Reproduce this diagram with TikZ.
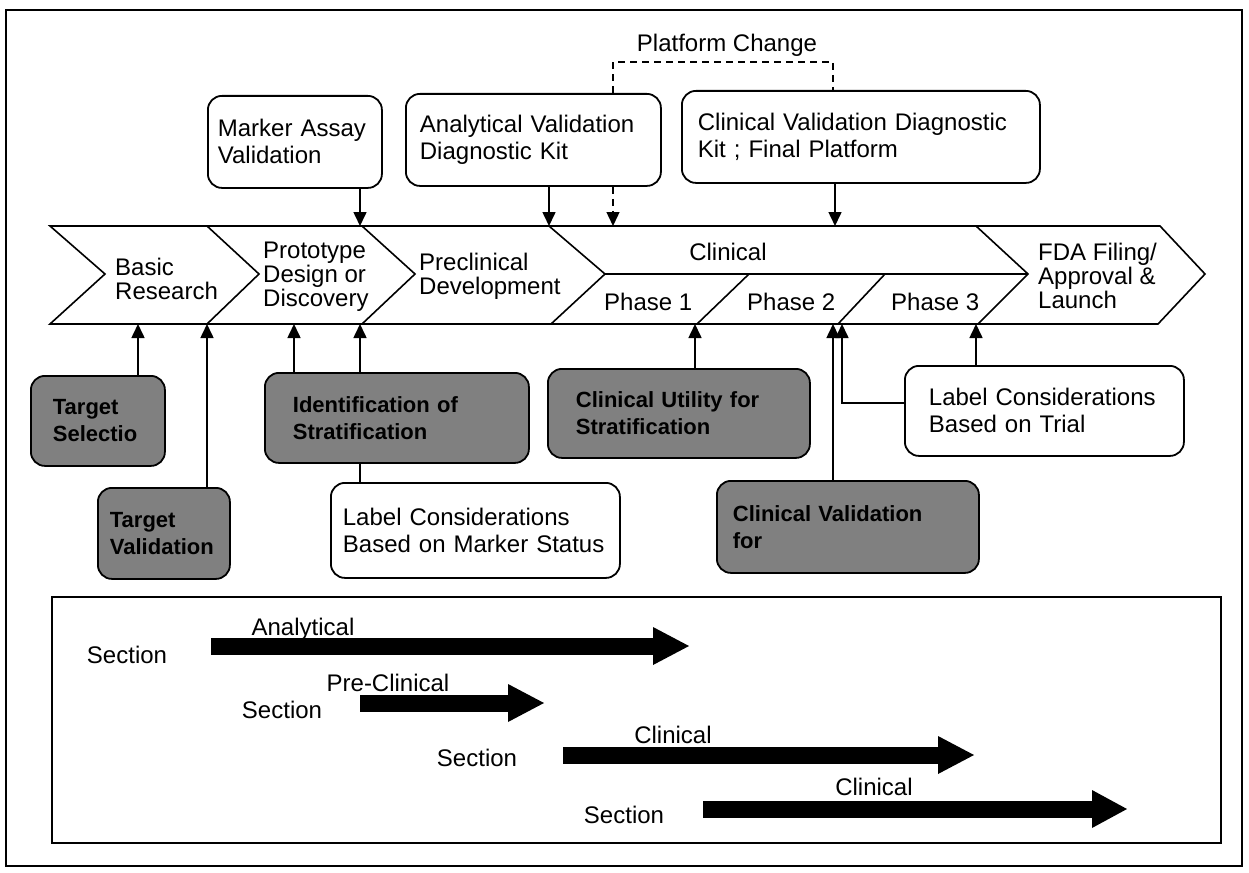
\documentclass[tikz,border=0pt]{standalone}
\usepackage{fontspec}
\setmainfont{Liberation Sans}
\usetikzlibrary{arrows.meta}
\hyphenpenalty=10000
\exhyphenpenalty=10000

\tikzset{
  caja/.style={draw, line width=1.8pt, rounded corners=14pt, align=left, anchor=north west,
    inner ysep=0pt, font=\fontsize{24}{27}\selectfont},
  sombra/.style={caja, fill=black!50, font=\bfseries\fontsize{22}{27}\selectfont},
  etapa/.style={align=left, anchor=west, inner sep=0pt, font=\fontsize{24}{24}\selectfont},
  texto/.style={inner sep=0pt, font=\fontsize{24}{24}\selectfont},
  banda/.style={line width=1.6pt, line join=miter},
  flecha/.style={line width=1.6pt, -{Triangle[length=14pt,width=13pt]}},
  cambio/.style={line width=1.4pt, dash pattern=on 7pt off 5pt}
}

\begin{document}
\begin{tikzpicture}[x=1pt, y=-1pt]
\useasboundingbox (0,0) rectangle (1249,872);

% Marco
\draw[line width=1.4pt] (6,10) rectangle (1242,866);

% Banda de etapas
\draw[banda] (50,226) -- (1160,226) -- (1205,274) -- (1158,324) -- (50,324) -- (105,274) -- cycle;
\draw[banda] (207,226) -- (259,274) -- (207,324);
\draw[banda] (362,226) -- (415,274) -- (362,324);
\draw[banda] (549,226) -- (605,274) -- (551,324);
\draw[banda] (976,226) -- (1028,274) -- (978,324);
\draw[banda] (605,274) -- (1028,274);
\draw[banda] (697,324) -- (749,274);
\draw[banda] (838,324) -- (885,274);

\node[etapa] (basic) at (115,279) {Basic\\Research};
\node[etapa] (proto) at (263,277) {Prototype\\Design or\\Discovery};
\node[etapa] (precl) at (419,276) {Preclinical\\Development};
\node[texto] (clin) at (728,252) {Clinical};
\node[etapa] (ph1) at (604,302) {Phase 1};
\node[etapa] (ph2) at (747,302) {Phase 2};
\node[etapa] (ph3) at (891,302) {Phase 3};
\node[etapa] (fda) at (1038,276) {FDA Filing/\\Approval \&\\Launch};

% Puntos de la banda
\coordinate (tA) at (360,226);
\coordinate (tB) at (549,226);
\coordinate (tC) at (613,226);
\coordinate (tD) at (835,226);
\coordinate (bA) at (138,324);
\coordinate (bB) at (207,324);
\coordinate (bC) at (294,324);
\coordinate (bD) at (360,324);
\coordinate (bE) at (695,324);
\coordinate (bF) at (833,324);
\coordinate (bG) at (842,324);
\coordinate (bH) at (976,324);

% Cajas de arriba
\node[caja, text width=154pt, inner xsep=10pt, minimum height=92pt] (mk) at (207,95) {Marker Assay\\Validation};
\node[caja, text width=227pt, inner xsep=14pt, minimum height=92pt] (an) at (405,93) {Analytical Validation\\Diagnostic Kit};
\node[caja, text width=326pt, inner xsep=16pt, minimum height=92pt] (cv) at (681,90) {Clinical Validation Diagnostic\\Kit ; Final Platform};

\node[texto] (plat) at (727,45) {Platform Change};
\coordinate (pc1) at (613,62);
\coordinate (pc2) at (833,62);
\draw[cambio] (an.north -| pc1) -- (pc1) -- (pc2) -- (cv.north -| pc2);
\draw[flecha, cambio] (an.south -| tC) -- (tC);

\draw[flecha] (mk.south -| tA) -- (tA);
\draw[flecha] (an.south -| tB) -- (tB);
\draw[flecha] (cv.south -| tD) -- (tD);

% Cajas de abajo
\node[sombra, text width=90pt, inner xsep=22pt, minimum height=90pt] (ts) at (30,375) {Target\\Selectio};
\node[sombra, text width=108pt, inner xsep=12pt, minimum height=91pt] (tv) at (97,487) {Target\\Validation};
\node[sombra, text width=208pt, inner xsep=28pt, minimum height=90pt] (id) at (264,372) {Identification of\\Stratification};
\node[caja, text width=265pt, inner xsep=12pt, minimum height=95pt] (lm) at (330,482) {Label Considerations\\Based on Marker Status};
\node[sombra, text width=206pt, inner xsep=28pt, minimum height=89pt] (cu) at (547,368) {Clinical Utility for\\Stratification};
\node[sombra, text width=230pt, inner xsep=16pt, minimum height=92pt] (cf) at (716,480) {Clinical Validation\\for};
\node[caja, text width=231pt, inner xsep=24pt, minimum height=90pt] (lt) at (904,365) {Label Considerations\\Based on Trial};

\draw[flecha] (ts.north -| bA) -- (bA);
\draw[flecha] (tv.north -| bB) -- (bB);
\draw[flecha] (id.north -| bC) -- (bC);
\draw[flecha] (id.north -| bD) -- (bD);
\draw[line width=1.6pt] (lm.north -| bD) -- (id.south -| bD);
\draw[flecha] (cu.north -| bE) -- (bE);
\draw[flecha] (cf.north -| bF) -- (bF);
\draw[flecha] ([yshift=8pt]lt.west) -| (bG);
\draw[flecha] (lt.north -| bH) -- (bH);

% Secciones
\draw[line width=1.6pt] (52,597) rectangle (1221,843);

\node[texto] (s1) at (127,655) {Section};
\node[texto] (n1) at (303,629) {Analytical};
\fill (211,637.5) rectangle (653,654.5);
\fill (653,627) -- (689,646) -- (653,665) -- cycle;

\node[texto] (s2) at (282,710) {Section};
\node[texto] (n2) at (388,683) {Pre-Clinical};
\fill (360,694.5) rectangle (508,711.5);
\fill (508,684) -- (544,703) -- (508,722) -- cycle;

\node[texto] (s3) at (477,758) {Section};
\node[texto] (n3) at (673,735) {Clinical};
\fill (563,746.5) rectangle (938,763.5);
\fill (938,736) -- (974,755) -- (938,774) -- cycle;

\node[texto] (s4) at (624,815) {Section};
\node[texto] (n4) at (874,787) {Clinical};
\fill (703,800.5) rectangle (1092,817.5);
\fill (1092,790) -- (1127,809) -- (1092,828) -- cycle;

\end{tikzpicture}
\end{document}
